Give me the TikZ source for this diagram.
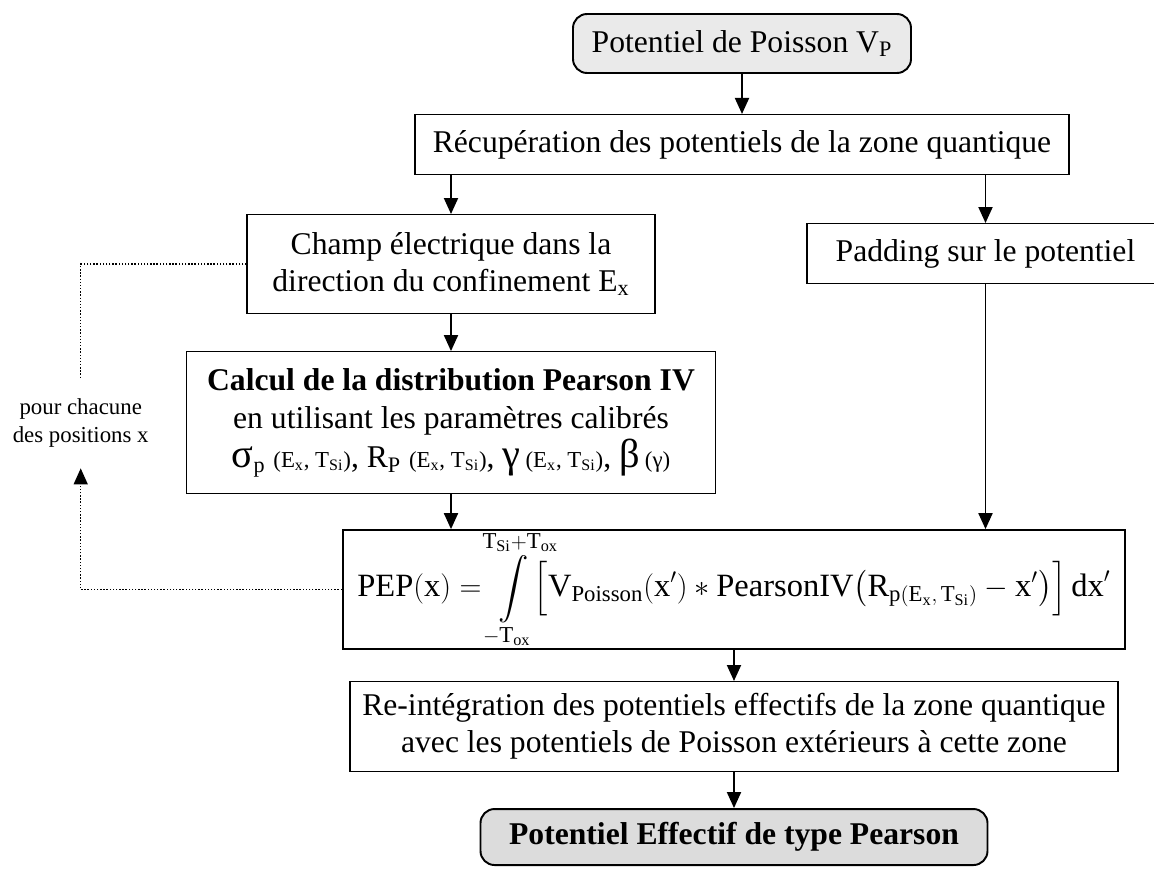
\documentclass[tikz,border=0pt]{standalone}
\usepackage{amsmath}
\usepackage{exscale}
\usepackage{fontspec}
\setmainfont{Liberation Serif}
\usetikzlibrary{shapes,arrows,arrows.meta,positioning}
\definecolor{vpgray}{RGB}{234,234,234}
\definecolor{endgray}{RGB}{220,220,220}
\tikzstyle{proc}=[rectangle,draw,align=center,inner sep=0pt,line width=0.6pt,font=\fontsize{18}{21}\selectfont]
\tikzstyle{term}=[rectangle,draw,rounded corners=8pt,fill=vpgray,align=center,inner sep=0pt,line width=1.1pt,font=\fontsize{18}{21}\selectfont]
\tikzstyle{arr}=[-{Triangle[length=0.32cm,width=0.28cm]},line width=1.1pt]
\tikzstyle{back}=[densely dotted,line width=0.8pt]
\newcommand{\subtx}[1]{\textsubscript{#1}}
\newcommand{\parsz}{\fontsize{13}{15}\selectfont}
\newcommand{\grksz}{\fontsize{23}{25}\selectfont}
\newcommand{\limclap}[1]{\makebox[0pt]{$\scriptstyle #1$}}

\begin{document}
\begin{tikzpicture}
\useasboundingbox (0,0) rectangle (23.08,-17.52);
\node[term, minimum width=6.76cm, minimum height=1.18cm] (vp) at (14.84,-0.87) {Potentiel de Poisson V\subtx{P}};
\node[proc, below=0.8cm of vp, minimum width=13.08cm, minimum height=1.2cm] (recup) {Récupération des potentiels de la zone quantique};
\node[proc, below=0.78cm of recup, xshift=-5.82cm, minimum width=8.16cm, minimum height=1.98cm] (champ) {Champ électrique dans la\\direction du confinement E\subtx{x}};
\node[proc, below=0.96cm of recup, xshift=4.87cm, minimum width=7.14cm, minimum height=1.2cm] (padding) {Padding sur le potentiel};
\node[proc, below=0.74cm of champ, minimum width=10.58cm, minimum height=2.84cm] (calcul) {\textbf{Calcul de la distribution Pearson IV}\\[1pt]en utilisant les paramètres calibrés\\[1pt]{\grksz σ}\subtx{p} {\parsz(E\subtx{x}, T\subtx{Si})}, R\subtx{P} {\parsz(E\subtx{x}, T\subtx{Si})}, {\grksz γ}\,{\parsz(E\subtx{x}, T\subtx{Si})}, {\grksz β}\,{\parsz(γ)}};
\node[proc, line width=1.2pt, below=0.7cm of calcul, xshift=5.66cm, minimum width=15.64cm, minimum height=2.3cm, font=\fontsize{18.5}{22}\selectfont] (pep) {$\displaystyle \mathrm{PEP(x)} = \;\int\limits_{\limclap{-\mathrm{T}_{\mathrm{ox}}}}^{\limclap{\mathrm{T}_{\mathrm{Si}}+\mathrm{T}_{\mathrm{ox}}}} \Big[\mathrm{V}_{\mathrm{Poisson}}(\mathrm{x}')*\mathrm{PearsonIV}\big(\mathrm{R}_{\mathrm{p}(\mathrm{E}_\mathrm{x},\,\mathrm{T}_\mathrm{Si})}-\mathrm{x}'\big)\Big]\,\mathrm{dx}'$};
\node[proc, below=0.62cm of pep, minimum width=15.36cm, minimum height=1.8cm] (reint) {Re-intégration des potentiels effectifs de la zone quantique\\avec les potentiels de Poisson extérieurs à cette zone};
\node[term, fill=endgray, below=0.72cm of reint, minimum width=10.14cm, minimum height=1.12cm, font=\fontsize{18}{21}\selectfont\bfseries] (final) {Potentiel Effectif de type Pearson};
\node[left=0.74cm of calcul, align=center, inner ysep=0.42cm, inner xsep=0pt, font=\fontsize{13}{16}\selectfont] (note) {pour chacune\\des positions x};
% main flow
\draw[arr] (vp) -- (recup);
\draw[arr] (recup.south -| champ) -- (champ);
\draw[arr] (champ) -- (calcul);
\draw[arr] (calcul.south) -- (calcul.south |- pep.north);
\draw[arr] (recup.south -| padding) -- (padding);
\draw[arr] (padding) -- (padding |- pep.north);
\draw[arr] (pep) -- (reint);
\draw[arr] (reint) -- (final);
% loop over x
\draw[back] (champ.west) -| (note.north);
\draw[back,-{Triangle[length=0.32cm,width=0.28cm]}] (pep.west) -| (note.south);
\end{tikzpicture}
\end{document}
